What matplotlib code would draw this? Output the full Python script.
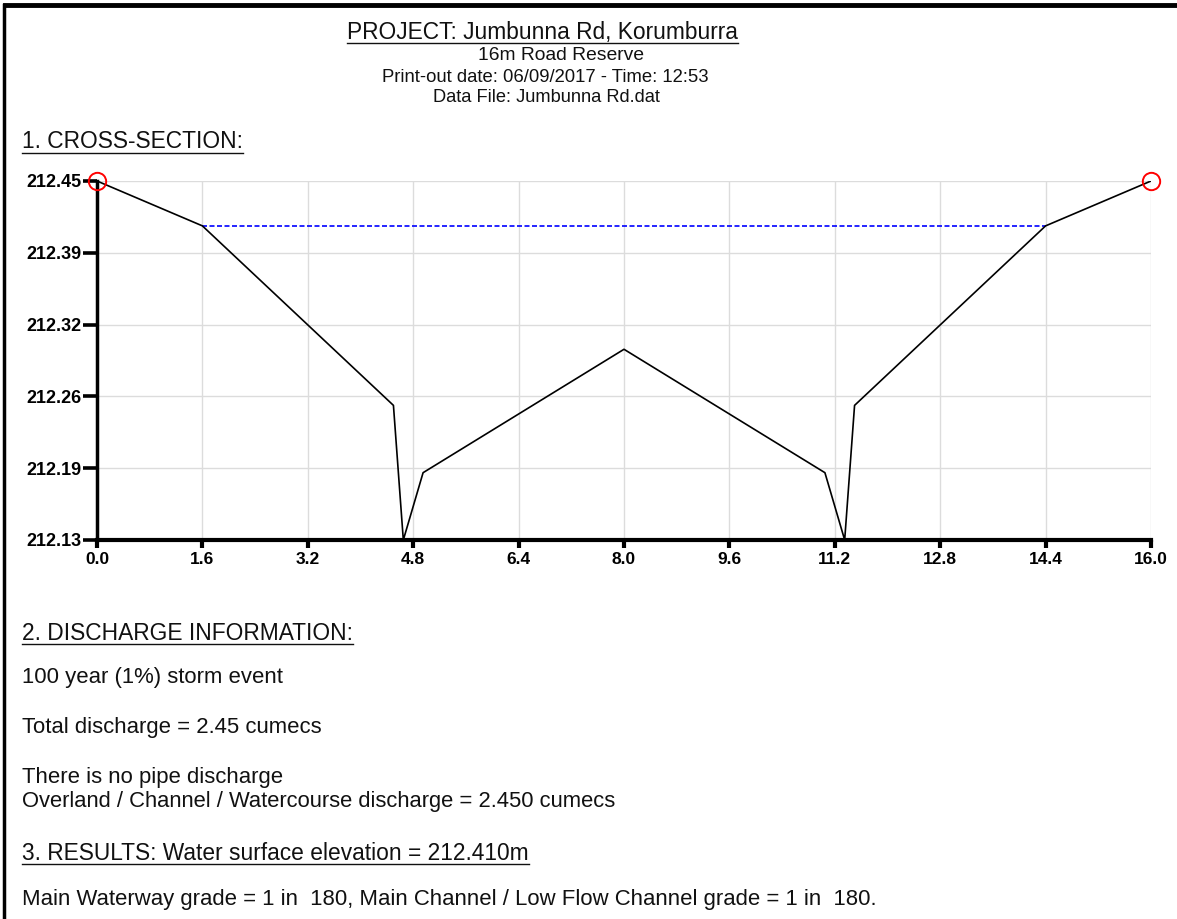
import matplotlib
matplotlib.use("Agg")
import matplotlib.pyplot as plt
from matplotlib import font_manager
from matplotlib.lines import Line2D

# cross-section data
chainage = [0.0, 1.6, 4.5, 4.65, 4.95, 8.0, 11.05, 11.35, 11.5, 14.4, 16.0]
level = [212.45, 212.41, 212.25, 212.13, 212.19, 212.30, 212.19, 212.13, 212.25, 212.41, 212.45]
water_x = [1.6, 14.4]
water_level = 212.41
end_x = [0.0, 16.0]
end_y = [212.45, 212.45]

x_ticks = [0.0, 1.6, 3.2, 4.8, 6.4, 8.0, 9.6, 11.2, 12.8, 14.4, 16.0]
y_ticks = [212.13, 212.194, 212.258, 212.322, 212.386, 212.45]

header = [
    ("PROJECT: Jumbunna Rd, Korumburra", 347, 738, 32, True),
    ("16m Road Reserve", 478, 644, 56, False),
    ("Print-out date: 06/09/2017 - Time: 12:53", 382, 709, 77, False),
    ("Data File: Jumbunna Rd.dat", 433, 661, 98, False),
    ("1. CROSS-SECTION:", 22, 242, 142, True),
]
body = [
    ("2. DISCHARGE INFORMATION:", 22, 352, 633, True),
    ("100 year (1%) storm event", 22, 283, 678, False),
    ("Total discharge = 2.45 cumecs", 22, 323, 728, False),
    ("There is no pipe discharge", 22, 283, 778, False),
    ("Overland / Channel / Watercourse discharge = 2.450 cumecs", 22, 619, 802, False),
    ("3. RESULTS: Water surface elevation = 212.410m", 22, 529, 853, True),
    ("Main Waterway grade = 1 in  180, Main Channel / Low Flow Channel grade = 1 in  180.", 22, 876, 900, False),
]

W, H = 1177, 919
names = {f.name for f in font_manager.fontManager.ttflist}
txt_font = "Liberation Sans Narrow" if "Liberation Sans Narrow" in names else "Liberation Sans"

fig = plt.figure(figsize=(W / 100, H / 100), dpi=100)
fig.patch.set_facecolor("white")

ax = fig.add_axes([97 / W, 1 - 540 / H, (1151 - 97) / W, (540 - 181) / H])
ax.plot(chainage, level, color="black", lw=1.2, zorder=3)
ax.plot(water_x, [water_level, water_level], color="#0000ff", lw=1.2,
        linestyle=(0, (3, 1.5)), zorder=2)
ax.plot(end_x, end_y, "o", ms=12.5, mfc="none", mec="red", mew=1.4, zorder=4, clip_on=False)

ax.set_xlim(0, 16)
ax.set_ylim(212.13, 212.45)
ax.set_xticks(x_ticks)
ax.set_xticklabels(["%.1f" % v for v in x_ticks])
ax.set_yticks(y_ticks)
ax.set_yticklabels(["%.2f" % v for v in y_ticks])
ax.grid(True, color="#dcdcdc", lw=1)
ax.set_axisbelow(True)
for s in ["top", "right"]:
    ax.spines[s].set_visible(False)
ax.spines["left"].set_linewidth(2.5)
ax.spines["bottom"].set_linewidth(3)
ax.tick_params(axis="y", length=10, width=2.6, pad=1, labelsize=13)
ax.tick_params(axis="x", length=6, width=3, pad=3, labelsize=12.5)
for lab in ax.get_xticklabels() + ax.get_yticklabels():
    lab.set_fontweight("bold")
    lab.set_fontfamily("Liberation Sans")

# page frame
fig.add_artist(Line2D([5 / W, 1], [1 - 5 / H, 1 - 5 / H], color="black", lw=3.5))
fig.add_artist(Line2D([4 / W, 4 / W], [0, 1 - 5 / H], color="black", lw=2.5))

renderer = fig.canvas.get_renderer()


def put_text(s, x0, x1, yc, underline):
    t = fig.text(x0 / W, 1 - yc / H, s, fontsize=12, family=txt_font,
                 ha="left", va="center", color="#111111")
    w = t.get_window_extent(renderer).width
    t.set_fontsize(12 * (x1 - x0) / w)
    if underline:
        bb = t.get_window_extent(renderer)
        yl = bb.y0 + 1
        fig.add_artist(Line2D([bb.x0 / W, bb.x1 / W], [yl / H, yl / H],
                              color="#111111", lw=1))


for s, x0, x1, yc, ul in header + body:
    put_text(s, x0, x1, yc, ul)

fig.savefig("out.png", dpi=100, facecolor="white")
